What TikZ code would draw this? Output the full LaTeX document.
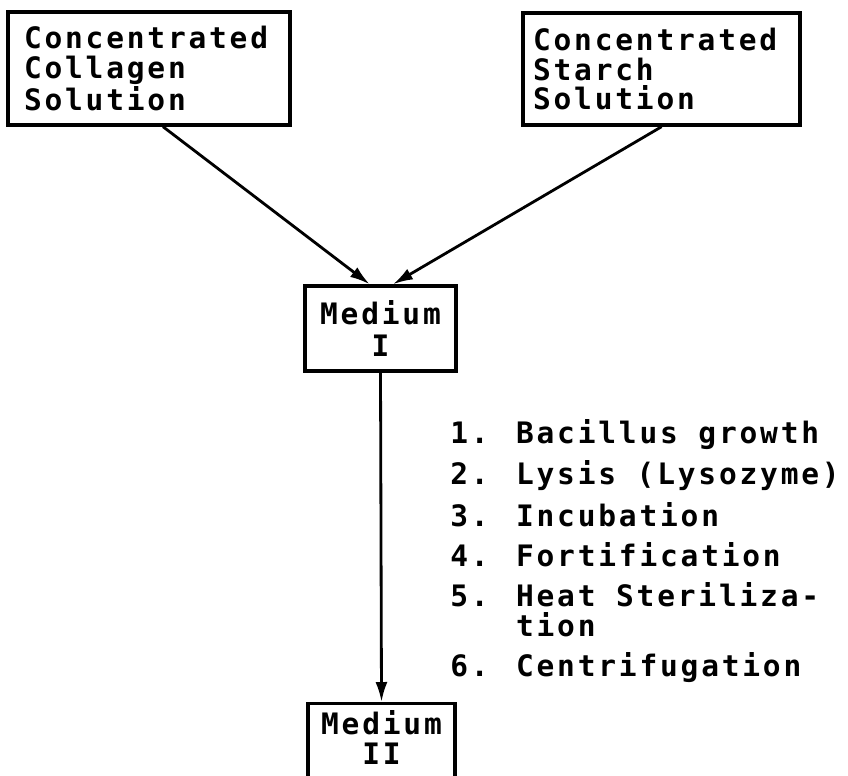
\documentclass[tikz,border=0pt]{standalone}
\usepackage{fontspec}
\newfontfamily\lettering{DejaVu Sans Mono Bold}[LetterSpace=9.5]
\usetikzlibrary{arrows.meta}

\tikzset{
    box/.style={draw=black, line width=2.4pt, inner ysep=4pt},
    flow/.style={line width=2pt, -{Latex[length=5mm, width=3mm]}}
}

\begin{document}
\begin{tikzpicture}[
        font=\lettering\fontsize{21}{21.3}\selectfont
    ]
        % Marco
        \useasboundingbox (0,0) rectangle (21.2,-19.375);

        % Soluciones concentradas
        \node[box, text width=6.25cm, inner xsep=0.4cm, minimum height=2.825cm, align=left]
            (collagen) at (3.725,-1.7125) {Concentrated\\Collagen\\Solution};
        \node[box, text width=6.425cm, inner xsep=0.25cm, minimum height=2.8cm, align=left]
            (starch) at (16.54,-1.725) {Concentrated\\Starch\\Solution};

        % Medios
        \node[box, minimum width=3.775cm, minimum height=2.125cm, align=center]
            (med1) at (9.5125,-8.2125) {Medium\\[2pt]I};
        \node[box, minimum width=3.675cm, text depth=0.8cm, inner ysep=5pt, anchor=north, align=center]
            (med2) at (9.5375,-17.55) {Medium\\II};

        % Flechas
        \draw[flow] ([xshift=0.35cm]collagen.south) -- ([xshift=-0.27cm]med1.north);
        \draw[flow] (starch.south) -- ([xshift=0.31cm]med1.north);
        \draw[flow] (med1.south) -- (med2.north);

        % Pasos
        \node[anchor=north west, inner sep=0pt, align=left]
            (steps) at (11.25,-10.48) {
                1. Bacillus growth\\[7.1pt]
                2. Lysis (Lysozyme)\\[7.1pt]
                3. Incubation\\[7.1pt]
                4. Fortification\\[7.1pt]
                5. Heat Steriliza-\\
                \phantom{5. }tion\\[7.1pt]
                6. Centrifugation
            };

    \end{tikzpicture}
\end{document}
